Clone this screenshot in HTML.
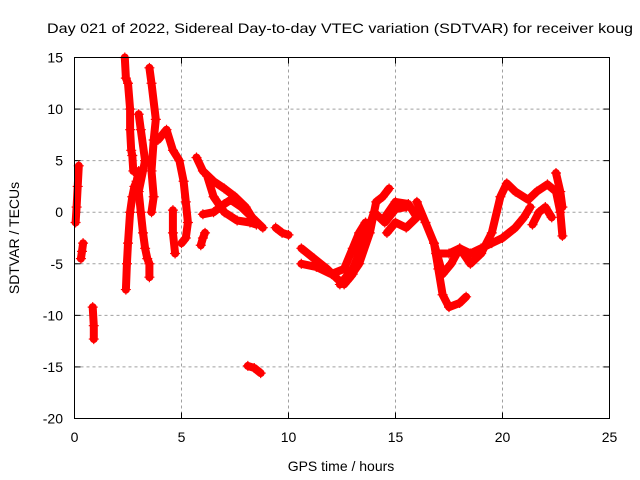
<!DOCTYPE html>
<html><head><meta charset="utf-8"><style>
html,body{margin:0;padding:0;background:#fff}
svg{display:block;font-family:"Liberation Sans",sans-serif}
</style></head><body>
<svg id="chart" width="640" height="480">
<text x="340" y="33" font-size="14" text-anchor="middle" textLength="586" lengthAdjust="spacingAndGlyphs">Day 021 of 2022, Sidereal Day-to-day VTEC variation (SDTVAR) for receiver koug</text>
<text x="341" y="471" font-size="14" text-anchor="middle">GPS time / hours</text>
<text transform="translate(19,238) rotate(-90)" font-size="14" text-anchor="middle">SDTVAR / TECUs</text>
<g id="grid"></g>
<g id="ticks"></g>
<g id="series"></g>
<rect x="74.5" y="57.5" width="535" height="361" fill="none" stroke="#000" stroke-width="1"/>
</svg>
<script>
const xTicks=[0,5,10,15,20,25];
const yTicks=[15,10,5,0,-5,-10,-15,-20];
const tracks=[
[[0.05,-1],[0.1,0.5],[0.15,2.5],[0.2,4.5]],
[[0.3,-4.5],[0.35,-3.8],[0.4,-3]],
[[0.85,-9.2],[0.9,-11],[0.9,-12.3]],
[[2.35,15],[2.4,13],[2.5,12.5],[2.6,10],[2.6,8],[2.65,6],[2.7,5.5],[2.75,4]],
[[2.4,-7.5],[2.45,-5],[2.5,-3],[2.6,0],[2.7,1.5],[2.8,2.5],[2.9,3],[3.0,4]],
[[3.0,9.5],[3.1,8],[3.3,5],[3.0,2],[3.1,0],[3.2,-2],[3.3,-3.5],[3.4,-4.5],[3.5,-5],[3.5,-6.3]],
[[3.5,14],[3.6,12.5],[3.8,9],[3.7,7],[3.6,4],[3.7,1.5],[3.6,0]],
[[3.9,7],[4.1,7.5],[4.3,8],[4.6,6],[4.9,5],[5.1,3],[5.2,1],[5.3,-1],[5.2,-2.5],[5.0,-3]],
[[4.6,0.2],[4.6,-2],[4.7,-4]],
[[5.7,5.3],[6.0,4],[6.5,3],[7.0,2.3],[7.5,1.5],[8.0,0.5],[8.3,-0.5],[8.8,-1.5]],
[[6.2,3.5],[6.5,1.5],[7.0,0],[7.6,-0.8],[8.2,-1],[8.5,-1.2]],
[[6.0,-0.2],[6.5,0],[7.0,0.8],[7.3,1.2],[7.8,0.5],[8.3,-0.5]],
[[5.9,-3.2],[6.0,-2.5],[6.1,-2]],
[[9.4,-1.5],[9.7,-2],[10.0,-2.2]],
[[8.1,-14.9],[8.4,-15.1],[8.7,-15.6]],
[[10.6,-3.5],[11.2,-4.5],[11.8,-5.5],[12.3,-6.5],[12.6,-7],[13.0,-6],[13.4,-3],[13.6,-2]],
[[10.6,-5],[11.3,-5.3],[12.0,-6],[12.6,-5.5],[13.0,-3.5],[13.3,-2],[13.6,-1]],
[[12.8,-6.5],[13.3,-5],[13.8,-2],[14.1,1],[14.4,1.5],[14.7,2.3]],
[[12.4,-7],[13.0,-5.5],[13.5,-3],[14.0,0],[14.5,-1],[15.0,0.3],[15.5,0.5]],
[[14.5,-0.5],[15.0,1],[15.6,0.8],[16.0,-0.5],[15.5,-1.5],[15.0,-1],[14.6,-2]],
[[16.0,1],[16.4,-1],[16.8,-3],[17.0,-5.5],[17.2,-8],[17.5,-9.2],[18.0,-8.8],[18.3,-8.2]],
[[16.9,-4],[17.5,-4],[18.0,-3.5],[18.5,-4],[19.0,-3.5],[19.5,-3],[20.0,-2.5],[20.6,-1.5],[21.0,-0.5],[21.3,0.5]],
[[16.8,-3],[17.2,-6],[17.6,-5],[18.0,-3.5],[18.5,-5],[19.0,-4]],
[[19.0,-4],[19.5,-2],[19.9,1.5],[20.2,2.8],[20.6,2],[21.2,1.2],[21.6,2],[22.1,2.7],[22.5,2],[22.7,0],[22.8,-2.3]],
[[22.5,3.8],[22.7,2],[22.8,0.5]],
[[21.4,-1.2],[21.7,0],[22.0,0.5],[22.3,-0.5]]
];
const NS='http://www.w3.org/2000/svg';
const X0=74.5,X1=609.5,Y0=418.5,Y1=57.5;
function sx(v){return X0+(v-0)/(25-0)*(X1-X0);}
function sy(v){return Y0-(v-(-20))/(15-(-20))*(Y0-Y1);}
function mk(tag,attrs,parent){const e=document.createElementNS(NS,tag);for(const k in attrs)e.setAttribute(k,attrs[k]);parent.appendChild(e);return e;}
const grid=document.getElementById('grid'),ticks=document.getElementById('ticks'),series=document.getElementById('series');
xTicks.forEach(t=>{
  const x=sx(t);
  if(t>0&&t<25){const g=mk('line',{x1:x,x2:x,y1:Y1,y2:Y0,stroke:'#a0a0a0','stroke-dasharray':'3,3'},grid);
  
  }
  mk('line',{x1:x,x2:x,y1:Y0,y2:Y0-6,stroke:'#000'},ticks);
  mk('line',{x1:x,x2:x,y1:Y1,y2:Y1+6,stroke:'#000'},ticks);
  const l=mk('text',{x:x,y:442,'font-size':14,'text-anchor':'middle'},ticks);
  l.textContent=t;
  
  
});
yTicks.forEach(t=>{
  const y=sy(t);
  if(t<15&&t>-20){const g=mk('line',{x1:X0,x2:X1,y1:y,y2:y,stroke:'#a0a0a0','stroke-dasharray':'3,3'},grid);
  
  }
  mk('line',{x1:X0,x2:X0+6,y1:y,y2:y,stroke:'#000'},ticks);
  mk('line',{x1:X1,x2:X1-6,y1:y,y2:y,stroke:'#000'},ticks);
  const l=mk('text',{x:63,y:y+5,'font-size':14,'text-anchor':'end'},ticks);
  l.textContent=t;
  
  
});
tracks.forEach((tr,i)=>{
  const pts=tr.map(p=>sx(p[0]).toFixed(1)+','+sy(p[1]).toFixed(1)).join(' ');
  const pl=mk('polyline',{points:pts,fill:'none',stroke:'#ff0000','stroke-width':8,'stroke-linejoin':'round','stroke-linecap':'round'},series);
  
  
  tr.forEach(p=>{
    const x=sx(p[0]),y=sy(p[1]);
    const m=mk('path',{d:`M${x-5},${y}H${x+5}M${x},${y-5}V${y+5}`,stroke:'#ff0000','stroke-width':1.2},series);
    
    
  });
});
</script>
</body></html>
